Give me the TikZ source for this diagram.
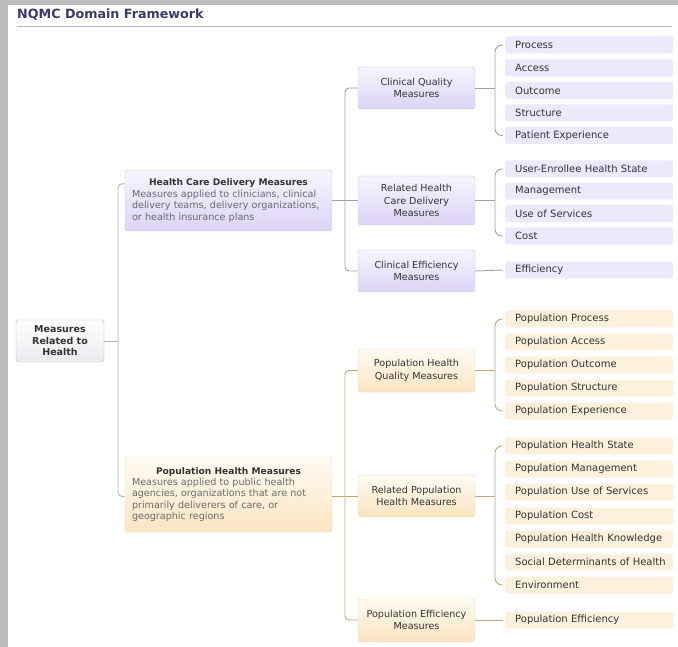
\documentclass[tikz,border=0pt]{standalone}
\usepackage{fontspec}
\setmainfont{DejaVu Sans}
\usetikzlibrary{calc}
\definecolor{bggray}{HTML}{BDBDBD}
\definecolor{titlecol}{HTML}{3B3B6B}
\definecolor{rulecol}{HTML}{B8B4CC}
\definecolor{txt}{HTML}{333333}
\definecolor{desc}{HTML}{6A6A6A}
\definecolor{rootborder}{HTML}{BDBDBD}
\definecolor{rootbot}{HTML}{EAE9EE}
\definecolor{lavborder}{HTML}{C9C0E6}
\definecolor{lavtop}{HTML}{F7F5FF}
\definecolor{lavbot}{HTML}{DCD3F6}
\definecolor{lavleaf}{HTML}{EDE8FC}
\definecolor{peachborder}{HTML}{EEDDBB}
\definecolor{peachtop}{HTML}{FFFBF3}
\definecolor{peachbot}{HTML}{FAE4C0}
\definecolor{peachleaf}{HTML}{FDF0DC}
\definecolor{uline}{HTML}{A39DBA}
\definecolor{pline}{HTML}{C6A878}
\definecolor{gline}{HTML}{B4B4B4}
\begin{document}
\begin{tikzpicture}[x=1pt,y=-1pt,
  rootbox/.style={draw=rootborder, rounded corners=3pt, top color=white, bottom color=rootbot,
    minimum width=88pt, minimum height=42pt, align=center, inner sep=0pt,
    font=\fontsize{9.5}{11.5}\selectfont\bfseries, text=txt},
  bigbox/.style={rounded corners=3pt, minimum width=207pt, text width=193pt, inner xsep=7pt,
    font=\fontsize{9.6}{11.4}\selectfont, text=desc},
  midbox/.style={rounded corners=3pt, minimum width=117pt, align=center, inner sep=0pt,
    font=\fontsize{9.6}{12.8}\selectfont, text=txt},
  lavfill/.style={draw=lavborder, top color=lavtop, bottom color=lavbot},
  peachfill/.style={draw=peachborder, top color=peachtop, bottom color=peachbot},
  leaf/.style={rounded corners=2.5pt, minimum height=17pt, anchor=west, text width=156pt,
    align=left, inner xsep=6pt, inner ysep=0pt, font=\fontsize{10}{12}\selectfont, text=txt,
    execute at begin node={\hskip4pt}},
  ulf/.style={leaf, fill=lavleaf},
  plf/.style={leaf, fill=peachleaf},
  uconn/.style={draw=uline, line width=0.9pt},
  pconn/.style={draw=pline, line width=0.9pt},
  gconn/.style={draw=gline, line width=0.9pt},
]
\useasboundingbox (0,0) rectangle (678,647);
\fill[bggray] (0,0) rectangle (678,647);
\fill[white] (8,5) rectangle (678,647);

% title
\node[anchor=base west, inner sep=0pt, font=\fontsize{12.7}{15}\selectfont\bfseries, text=titlecol] (title) at (17,19) {NQMC Domain Framework};
\draw[rulecol, line width=1pt] (17,26.5) -- (672,26.5);

% root
\node[rootbox] (root) at (60,341) {Measures\\Related to\\Health};

% level 1
\node[bigbox, lavfill, minimum height=61pt] (hcd) at (228.5,200.5)
  {{\centering\bfseries\color{txt}\fontsize{9.1}{11.4}\selectfont Health Care Delivery Measures\par}
   \raggedright Measures applied to clinicians, clinical\\delivery teams, delivery organizations,\\or health insurance plans};
\node[bigbox, peachfill, minimum height=75pt] (phm) at (228.5,494.5)
  {{\centering\bfseries\color{txt}\fontsize{9.1}{11.4}\selectfont Population Health Measures\par}
   \raggedright Measures applied to public health\\agencies, organizations that are not\\primarily deliverers of care, or\\geographic regions};

% level 2 (upper)
\node[midbox, lavfill, minimum height=42pt] (cq) at (416.5,88) {Clinical Quality\\Measures};
\node[midbox, lavfill, minimum height=49pt] (rhcd) at (416.5,200.5) {Related Health\\Care Delivery\\Measures};
\node[midbox, lavfill, minimum height=42pt] (ce) at (416.5,271) {Clinical Efficiency\\Measures};
% level 2 (lower)
\node[midbox, peachfill, minimum height=43pt] (phq) at (416.5,370.5) {Population Health\\Quality Measures};
\node[midbox, peachfill, minimum height=42pt] (rph) at (416.5,496) {Related Population\\Health Measures};
\node[midbox, peachfill, minimum height=44pt] (pe) at (416.5,620) {Population Efficiency\\Measures};

% leaves upper
\node[ulf] (u1) at (505,45) {Process};
\node[ulf] (u2) at (505,68) {Access};
\node[ulf] (u3) at (505,90.5) {Outcome};
\node[ulf] (u4) at (505,113) {Structure};
\node[ulf] (u5) at (505,135.5) {Patient Experience};
\node[ulf] (u6) at (505,169) {User-Enrollee Health State};
\node[ulf] (u7) at (505,191) {Management};
\node[ulf] (u8) at (505,213.5) {Use of Services};
\node[ulf] (u9) at (505,236) {Cost};
\node[ulf] (u10) at (505,270) {Efficiency};
% leaves lower
\node[plf] (p1) at (505,319) {Population Process};
\node[plf] (p2) at (505,342) {Population Access};
\node[plf] (p3) at (505,365) {Population Outcome};
\node[plf] (p4) at (505,388) {Population Structure};
\node[plf] (p5) at (505,411) {Population Experience};
\node[plf] (p6) at (505,446) {Population Health State};
\node[plf] (p7) at (505,469) {Population Management};
\node[plf] (p8) at (505,492) {Population Use of Services};
\node[plf] (p9) at (505,516) {Population Cost};
\node[plf] (p10) at (505,539) {Population Health Knowledge};
\node[plf] (p11) at (505,562) {Social Determinants of Health};
\node[plf] (p12) at (505,585) {Environment};
\node[plf] (p13) at (505,620) {Population Efficiency};

% root connectors
\coordinate (rj) at (118,341);
\draw[gconn] (root.east) -- (rj);
\draw[gconn, rounded corners=4pt] ($(hcd.north west)+(0,14)$) -| (rj) |- ($(phm.west)+(0,2)$);

% HCD connectors
\coordinate (hj) at (345,200.5);
\draw[uconn] (hcd.east) -- (rhcd.west);
\draw[uconn, rounded corners=4pt] (cq.west) -| (hj) |- (ce.west);
% PHM connectors
\coordinate (pj) at (345,496);
\draw[pconn] (phm.east |- pj) -- (rph.west);
\draw[pconn, rounded corners=4pt] (phq.west) -| (pj) |- (pe.west);

% brackets upper
\draw[uconn] (cq.east) -- (495,88);
\draw[uconn, rounded corners=7pt] ([xshift=-2pt]u1.west) -| (495,90) |- ([xshift=-2pt]u5.west);
\draw[uconn] (rhcd.east) -- (495,200.5);
\draw[uconn, rounded corners=7pt] ([xshift=-2pt]u6.west) -| (495,200) |- ([xshift=-2pt]u9.west);
\draw[uconn] (ce.east) -- ([xshift=-2pt]u10.west);
% brackets lower
\draw[pconn] (phq.east) -- (495,370.5);
\draw[pconn, rounded corners=7pt] ([xshift=-2pt]p1.west) -| (495,365) |- ([xshift=-2pt]p5.west);
\draw[pconn] (rph.east) -- (495,496);
\draw[pconn, rounded corners=7pt] ([xshift=-2pt]p6.west) -| (495,500) |- ([xshift=-2pt]p12.west);
\draw[pconn] (pe.east) -- ([xshift=-2pt]p13.west);
\end{tikzpicture}
\end{document}
